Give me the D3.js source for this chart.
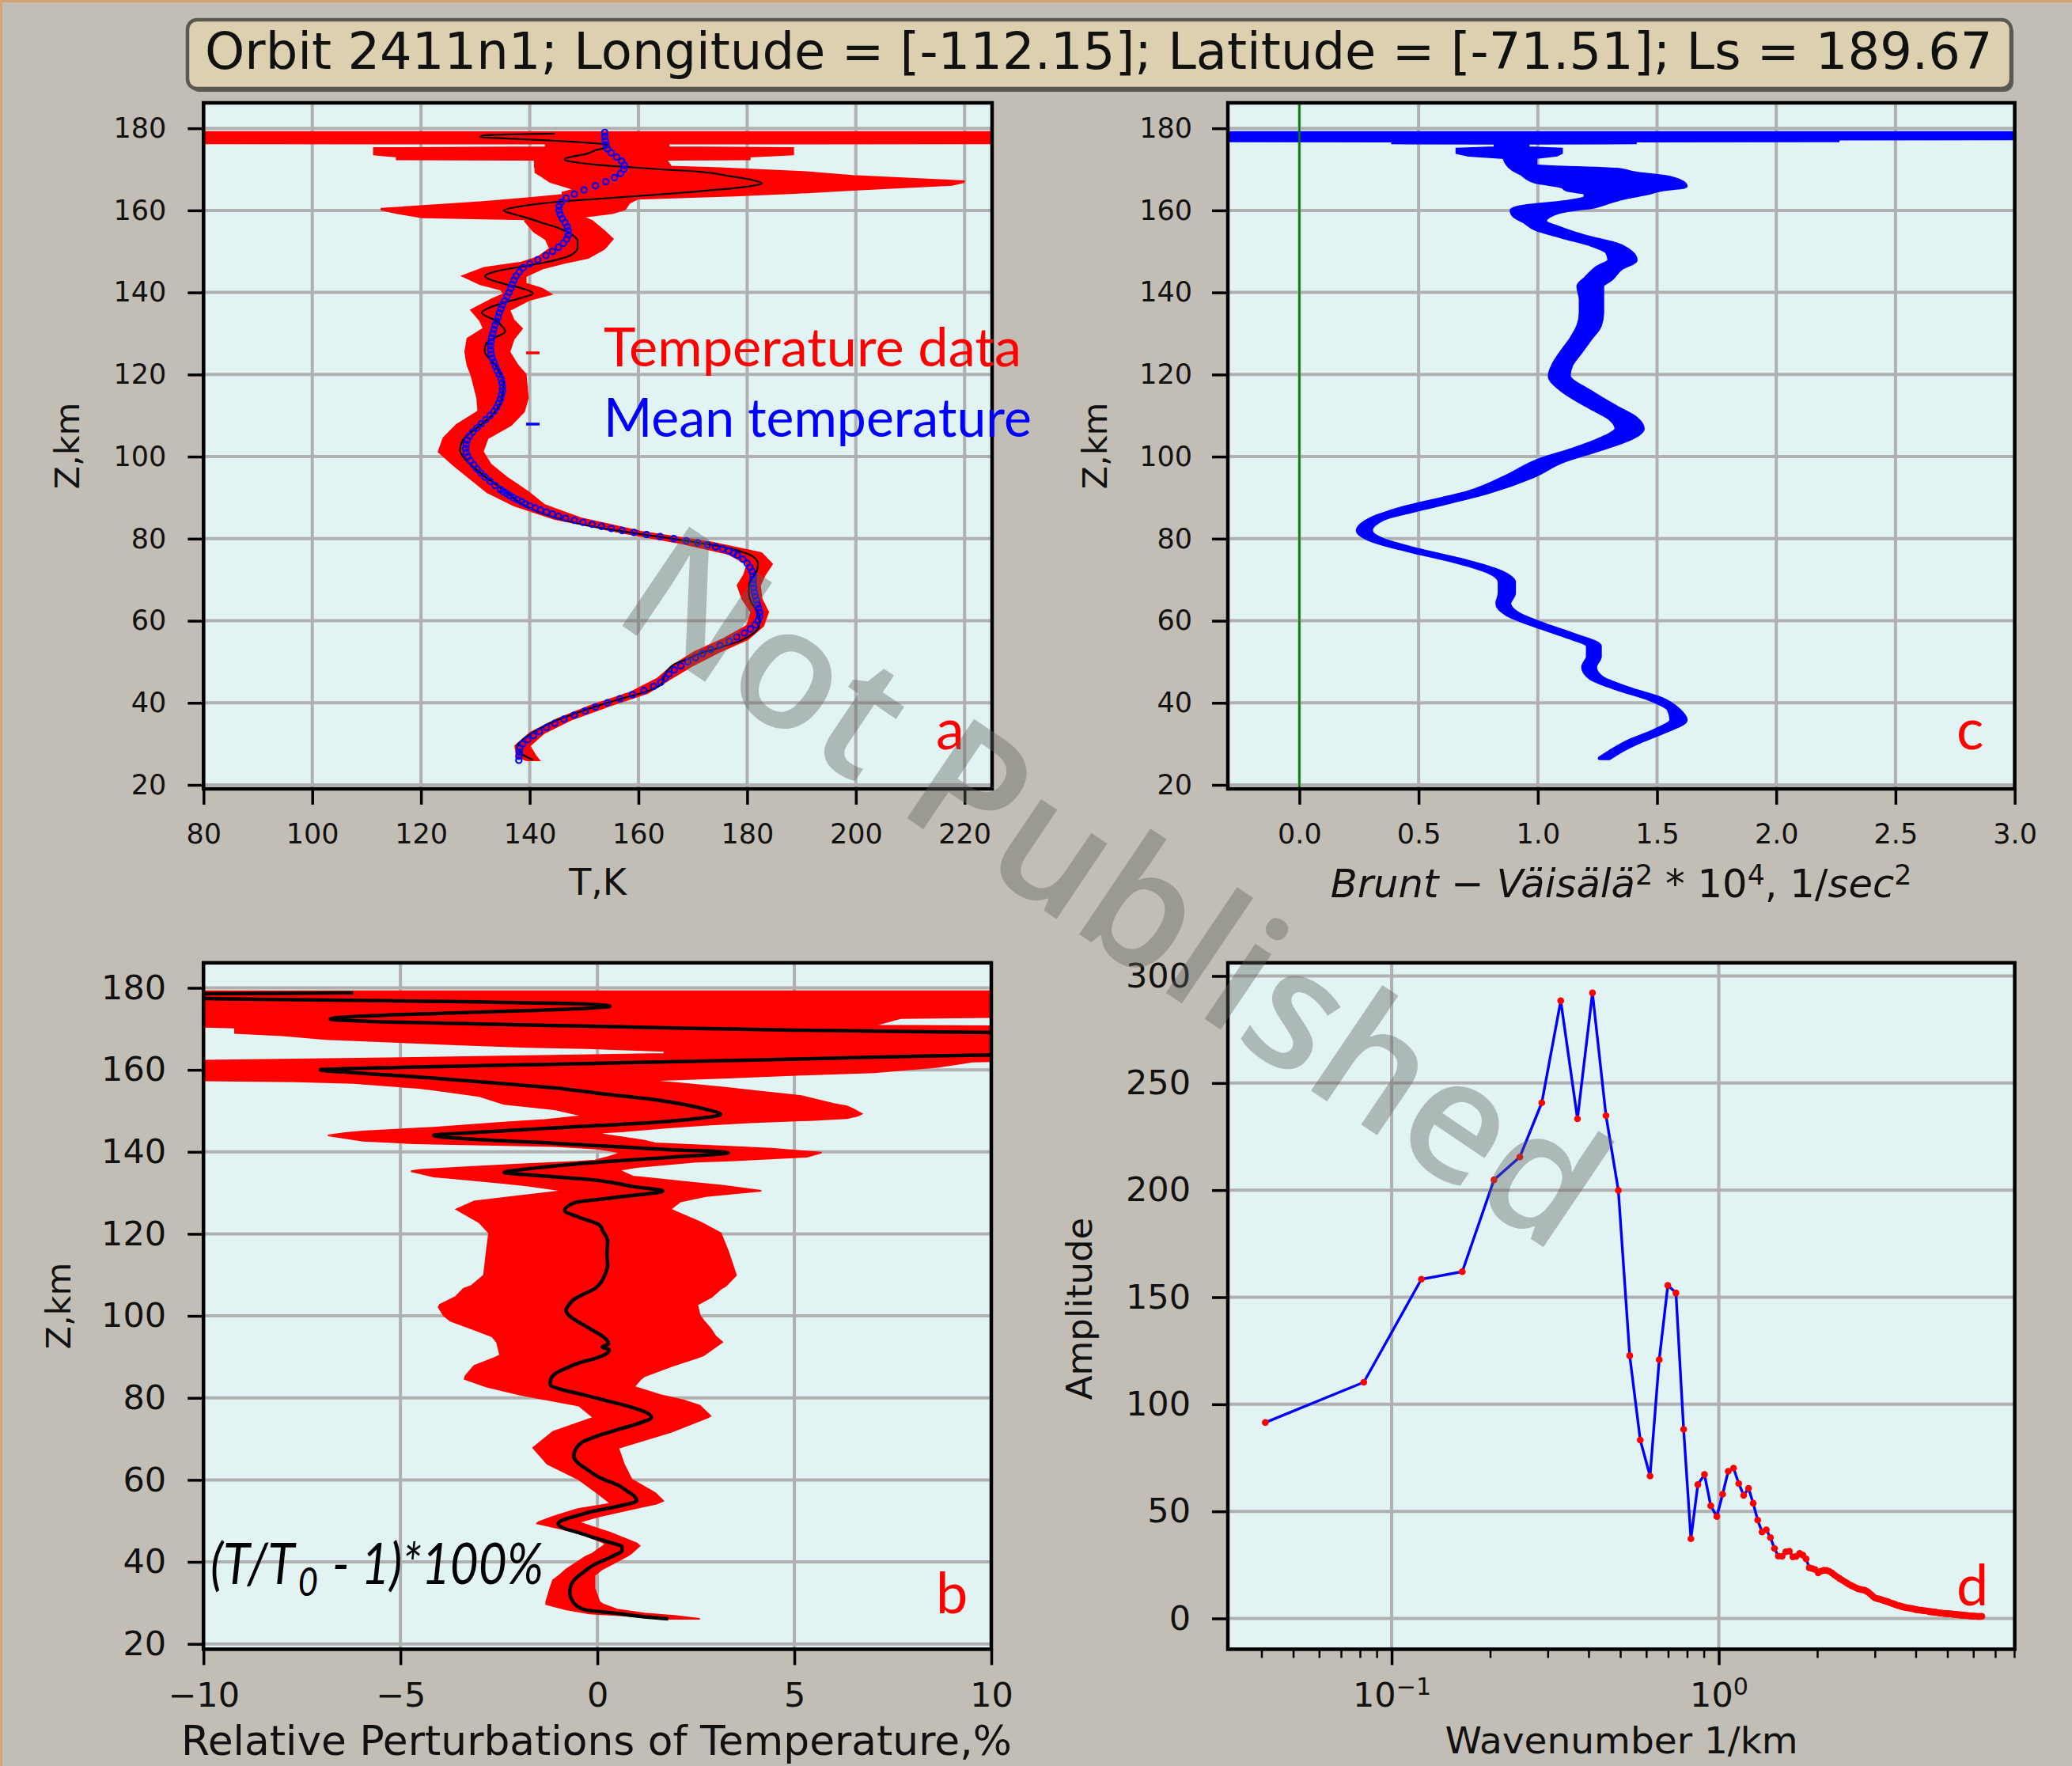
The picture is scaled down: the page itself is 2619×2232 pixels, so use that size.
<!DOCTYPE html>
<html><head><meta charset="utf-8">
<script src="https://cdn.jsdelivr.net/npm/d3@7"></script>
<style>html,body{margin:0;padding:0;background:#c2beb6;} svg{display:block}</style>
</head><body>
<svg id="chart" width="2619" height="2232"></svg>
<script>
// ================= DATA =================
const titleText = "Orbit 2411n1; Longitude = [-112.15]; Latitude = [-71.51]; Ls = 189.67";
const zTicks = [20,40,60,80,100,120,140,160,180];
const tTicks = [80,100,120,140,160,180,200,220];
const nTicks = [0,0.5,1,1.5,2,2.5,3];
const pTicks = [-10,-5,0,5,10];
const ampTicks = [0,50,100,150,200,250,300];
const kTicks = [0.1,1];
const kTickLabels = ["\u22121","0"];
const kMinorTicks = [0.04,0.05,0.06,0.07,0.08,0.09,0.2,0.3,0.4,0.5,0.6,0.7,0.8,0.9,2,3,4,5,6,7,8];

// Panel a: temperature profile [z km, T K]
const tempProfile = [[26.1,140.6],[27.0,139.2],[27.8,138.4],[29.3,137.6],[30.8,138.5],[32.3,140.0],[34,142.2],[35.5,144.5],[37.5,148.5],[39.4,152.8],[41.2,157.4],[42.9,161.8],[44.5,164.2],[46,164.7],[47.1,164.9],[48.3,165.6],[49.4,166.6],[50.8,169.2],[52.3,172.0],[53.6,175.3],[54.9,178.3],[56.8,181.0],[58.7,182.2],[60.6,182.3],[62.6,181.7],[64.2,180.9],[65.8,180.4],[67.5,180.3],[69.1,180.4],[70.7,181.1],[72.3,181.8],[73.8,182.0],[75.2,181.5],[76.6,179.5],[78.1,175.2],[79.4,169.2],[80.7,162.5],[82,156],[83.3,150.4],[84.6,146.2],[85.9,142.9],[87.2,140.4],[88.5,138.5],[89.8,137.1],[91.1,136.0],[92.4,134.7],[93.6,133.4],[94.9,132.0],[96.2,130.8],[97.5,129.6],[98.8,128.5],[100.1,127.7],[101.4,127.2],[102.7,127.3],[104,127.7],[105.3,128.6],[106.6,129.9],[108.3,131.5],[110,133.0],[112.5,134.4],[115,135.0],[118.3,135.2],[120,134.6],[122.1,133.8],[124,132.5],[125.7,131.7],[127.6,132.0],[129,133.6],[130.5,135.5],[131.8,134.9],[133.1,133.8],[135,131.2],[136.3,132.6],[137.6,135.5],[138.7,138.5],[139.8,140.6],[141,138.6],[142.1,135.3],[143,133.0],[144,131.8],[145.2,134.0],[146.2,138.0],[147.2,142.4],[148.2,145.6],[149.1,147.6],[150.9,148.8],[152.7,148.8],[154.2,147.6],[155.6,145.5],[157.1,142.0],[158.5,138.7],[159.3,136.5],[160,135.2],[160.8,137.5],[161.5,141.0],[162.2,146.1],[162.8,152.5],[163.5,159.8],[164.3,168.0],[165.1,175.1],[165.9,180.5],[166.6,182.7],[167.4,181.0],[168.4,176.5],[169.4,171.3],[170.0,164.0],[170.6,157.5],[171.1,152.5],[171.6,149.1],[172.2,146.6],[172.6,146.5],[173.0,147.5],[173.8,150.5],[174.7,152.2],[175.5,154.5],[176.0,154.1],[176.8,147.0],[177.4,138.0],[177.9,130.9],[178.3,131.5],[178.7,144.6]];

// Panel a: mean temperature [z, T]
const meanProfile = [[26,138.0],[27,138.0],[28,138.1],[29,138.2],[30,138.7],[31,139.6],[32,140.7],[33,141.8],[34,143.1],[35,144.6],[36,146.3],[37,148.2],[38,150.2],[39,152.1],[40,154.3],[41,156.6],[42,158.9],[43,161.0],[44,162.8],[45,164.1],[46,164.9],[47,165.6],[48,166.6],[49,167.8],[50,169.1],[51,170.5],[52,171.8],[53,173.3],[54,175.0],[55,176.7],[56,178.1],[57,179.5],[58,180.6],[59,181.5],[60,182.0],[61,182.3],[62,182.3],[63,182.1],[64,181.9],[65,181.7],[66,181.5],[67,181.3],[68,181.2],[69,181.1],[70,181.1],[71,181.1],[72,180.9],[73,180.5],[74,180.0],[75,179.2],[76,178.2],[76.5,177.5],[77,176.6],[77.5,175.5],[78,174.2],[78.5,172.7],[79,170.9],[79.5,168.8],[80,166.5],[80.5,164.0],[81,161.5],[81.5,159.2],[82,157.0],[82.5,155.0],[83,153.2],[83.5,151.5],[84,149.8],[84.5,148.2],[85,146.6],[85.5,145.3],[86,144.2],[86.5,143.1],[87,142.0],[87.5,141.0],[88,140.0],[88.5,139.2],[89,138.5],[89.5,137.7],[90,137.0],[90.5,136.3],[91,135.7],[91.5,135.1],[92,134.6],[93,133.6],[94,132.7],[95,131.8],[96,131.0],[97,130.3],[98,129.7],[99,129.1],[100,128.6],[101,128.3],[102,128.2],[103,128.3],[104,128.5],[105,128.9],[106,129.5],[107,130.3],[108,131.1],[109,131.9],[110,132.7],[111,133.4],[112,133.9],[113,134.3],[114,134.6],[115,134.8],[116,135.0],[117,135.0],[118,134.9],[119,134.7],[120,134.4],[121,134.0],[122,133.7],[123,133.4],[124,133.1],[125,132.9],[126,132.8],[127,132.8],[128,132.9],[129,133.0],[130,133.2],[131,133.4],[132,133.6],[133,133.9],[134,134.2],[135,134.4],[136,134.7],[137,135.0],[138,135.4],[139,135.8],[140,136.2],[141,136.5],[142,136.8],[143,137.1],[144,137.5],[145,138.1],[146,138.8],[147,140.0],[148,141.5],[149,143.0],[150,144.2],[151,145.3],[152,146.2],[153,146.8],[154,147.1],[155,147.1],[156,146.9],[157,146.5],[158,146.0],[159,145.6],[160,145.4],[161,145.4],[162,145.8],[163,146.7],[164,148.2],[165,150.0],[166,152.1],[167,154.0],[168,155.6],[169,156.7],[170,157.3],[171,157.4],[172,156.9],[173,156.0],[174,155.0],[175,154.3],[176,154.0],[177,153.9],[178,153.8],[179,153.8]];

// Panel a: temperature uncertainty band [z, Tlow, Thigh]
const tempBand = [[179.0,70,235],[176.4,70,235],[176.35,143,165.5],[175.3,143,165.5],[175.1,111.4,188.4],[173.7,111.4,188.4],[173.2,115.6,180.4],[172.5,115.6,180.4],[172.4,141,165],[170.6,141,166],[170.2,141.1,175.0],[169.3,141.1,190.3],[168.3,142.3,199.4],[167.0,143.8,220.0],[166.3,145.6,217.7],[165.1,148.4,199.4],[164.3,146.1,188.7],[163.7,146.1,177.7],[162.9,140.0,159.8],[161.9,130.9,158.3],[160.3,112.6,157.5],[159.4,115.6,155.2],[158.4,120.2,149.1],[157.9,139.2,150.5],[157.4,139.2,151.4],[154.9,140.8,153.7],[153.0,143.0,155.2],[150.7,143.8,153.7],[148.5,141.5,150.7],[147.2,138.5,146.1],[145.9,131.6,142.3],[144.0,127.8,139.2],[142.1,130.9,139.2],[140.8,134.7,142.3],[139.6,135.4,143.8],[138.3,133.1,140.0],[135.7,129.3,136.2],[133.2,130.9,137.0],[131.2,131.6,138.5],[128.7,128.6,137.0],[125.5,128.2,136.2],[122.3,128.6,137.7],[120.0,129.3,139.2],[114.3,130.4,139.6],[111.0,130.6,138.9],[107.7,126.6,136.5],[104.5,124.2,132.2],[101.2,123.3,131.3],[98.0,126.0,132.8],[94.7,129.1,135.9],[91.4,132.2,139.6],[88.2,137.1,142.6],[84.9,144.5,149.4],[81.6,156.8,160.5],[79.0,167.8,173.4],[76.4,176.5,182.6],[73.8,180.1,184.5],[71.2,179.5,183.2],[68.6,178.3,182.3],[65.3,179.2,182.6],[62.1,180.8,183.8],[58.8,180.1,182.9],[55.6,175.8,180.1],[52.3,170.3,174.6],[49.0,166.3,169.7],[45.8,163.5,165.7],[42.5,158.6,161.7],[39.2,151.2,154.3],[36.0,145.1,147.6],[32.7,140.2,142.6],[29.5,137.4,139.9],[26.9,137.7,141.1],[26.1,139.5,141.6]];

// Panel b: relative perturbation [z, %]
const pertProfile = [[26.1,1.8],[26.6,1.2],[27.4,0.53],[28.3,-0.3],[29.3,-0.53],[30.8,-0.65],[32.3,-0.7],[34,-0.68],[35.5,-0.6],[37.5,-0.35],[39.4,-0.07],[41.2,0.35],[42.9,0.63],[43.8,0.62],[44.5,0.4],[45.8,-0.05],[47.1,-0.47],[48.2,-0.85],[49.4,-1.0],[50.3,-0.85],[51.3,-0.5],[52.3,-0.13],[53.6,0.55],[54.9,1.0],[55.9,0.95],[57.3,0.75],[58.7,0.53],[60.6,0.05],[62.6,-0.27],[64.2,-0.5],[65.8,-0.6],[67.5,-0.55],[69.1,-0.4],[70.7,0.0],[72.3,0.53],[73.8,1.05],[75.2,1.37],[76.6,1.2],[78.1,0.73],[79.4,0.2],[80.7,-0.33],[82,-0.9],[83.3,-1.2],[84.6,-1.18],[85.9,-1.07],[87.2,-0.8],[88.5,-0.47],[89.8,0.0],[91.1,0.27],[91.8,0.3],[92.4,0.12],[93.1,0.28],[93.6,0.27],[94.9,0.15],[96.2,-0.07],[97.5,-0.3],[98.8,-0.53],[100.1,-0.72],[101.4,-0.8],[102.7,-0.72],[104,-0.6],[105.3,-0.35],[106.6,-0.07],[108.3,0.1],[110,0.19],[112.5,0.26],[115,0.24],[118.3,0.26],[119.7,0.2],[120.5,0.15],[122.1,0.06],[124,-0.45],[125.7,-0.83],[127.6,-0.58],[128.8,0.4],[130.5,1.66],[131.4,1.0],[133.1,-0.06],[134.2,-1.5],[135,-2.37],[135.8,-1.8],[137.6,0.19],[138.7,1.9],[139.8,3.32],[140.6,1.7],[142.1,-1.09],[143,-3.0],[144,-4.16],[144.8,-3.0],[146,-0.8],[147.2,1.47],[148.2,2.6],[149.1,3.13],[150.5,2.7],[152.7,1.47],[154.2,0.1],[155.6,-1.09],[157.1,-3.0],[158.5,-4.9],[159.3,-6.2],[160,-7.03],[160.6,-5.0],[161.4,-1.0],[162.3,3.5],[163.3,8.0],[164.3,13.5],[165.1,16.7],[166.6,19.4],[168,15],[169.1,10.2],[169.7,5.0],[170.6,0.1],[171.6,-5.0],[172.4,-6.78],[173.1,-6.0],[174.2,-2.6],[175.0,-0.3],[175.5,0.32],[176.0,-0.2],[176.8,-5.0],[177.4,-10.2],[177.9,-14.9],[178.3,-14.6],[178.8,-6.2]];

// Panel b: perturbation uncertainty band [z, low, high]
const pertBand = [[179.2,-10.5,10.5],[172.9,-10.5,10.5],[172.6,-10.5,7.7],[170.8,-10.5,7.0],[170.6,-10.5,10.5],[170.3,-9.2,10.5],[169.0,-9.2,10.5],[168.4,-8.0,10.5],[167.5,-6.9,10.5],[166.2,-3.6,10.5],[165.6,-1.8,10.5],[165.3,-0.26,10.5],[164.6,1.7,10.5],[163.9,1.7,10.5],[163.0,-4.0,10.5],[162.2,-10.5,10.5],[162.0,-10.5,9.53],[160.7,-10.5,8.63],[159.4,-10.5,7.03],[158.8,-10.5,5.18],[158.1,-10.5,3.32],[157.5,-10.5,1.6],[157.2,-7.67,1.47],[156.8,-6.2,2.0],[155.6,-4.54,3.3],[155.2,-4.2,3.64],[153.6,-3.0,5.18],[151.7,-2.37,6.0],[151.1,-1.8,6.33],[150.4,-1.09,6.5],[149.3,-0.6,6.71],[148.8,-0.32,6.6],[148.2,-0.9,6.33],[147.8,-1.34,5.5],[147.2,-2.3,3.9],[146.6,-3.13,2.8],[145.9,-4.16,1.73],[145.0,-5.95,0.6],[144.6,-6.4,-0.06],[144.0,-6.84,0.3],[142.7,-5.95,1.2],[142.1,-4.67,1.47],[141.4,-1.09,3.0],[140.8,0.0,4.41],[139.8,0.6,5.69],[138.8,0.3,5.31],[137.9,-0.06,3.39],[137.6,-0.5,2.5],[136.9,-2.0,1.73],[136.3,-3.26,1.0],[135.6,-4.5,0.58],[135.3,-4.73,0.6],[134.0,-4.16,0.9],[133.7,-3.8,1.21],[132.4,-2.37,2.5],[131.8,-1.8,3.13],[130.5,-0.83,4.16],[129.2,-2.0,2.75],[127.9,-3.13,2.11],[126.0,-3.58,1.85],[122.8,-3.0,2.62],[120.2,-2.75,3.13],[115.7,-2.81,3.32],[109.9,-2.88,3.52],[107.3,-3.2,3.26],[106.6,-3.4,3.13],[104.6,-3.6,2.9],[102.7,-4.0,2.53],[102.1,-4.03,2.55],[100.1,-3.9,2.6],[98.8,-3.73,2.7],[96.9,-3.2,2.87],[95.0,-2.67,3.0],[93.6,-2.55,3.17],[90.4,-2.47,2.7],[89.8,-2.6,2.53],[87.8,-3.13,1.9],[85.3,-3.35,1.2],[84.6,-3.37,1.1],[82.7,-2.8,0.93],[80.7,-1.93,1.6],[79.4,-1.2,2.2],[78.1,-0.47,2.6],[75.6,-0.15,2.87],[75.2,-0.1,2.8],[71.7,-1.13,1.87],[67.8,-1.63,0.53],[63.9,-1.27,0.67],[60.1,-0.47,0.87],[56.8,0.0,1.47],[54.9,0.25,1.67],[54.2,0.33,1.5],[52.9,-0.5,0.87],[51.0,-1.13,0.0],[49.7,-1.5,-0.47],[49.4,-1.53,-0.4],[47.1,-0.47,0.33],[44.5,0.2,1.0],[43.9,0.15,1.07],[42.0,-0.13,0.85],[41.3,-0.3,0.73],[38.1,-0.8,0.1],[36.8,-0.95,-0.07],[35.5,-1.13,-0.07],[33.5,-1.2,-0.07],[30.3,-1.3,0.05],[29.7,-1.3,0.13],[28.4,-0.8,0.5],[27.4,-0.2,1.2],[26.8,0.87,2.0],[26.1,1.8,2.6]];

// Panel c: Brunt-Vaisala squared *1e4, top block [z, low, high]
const bvTopBand = [[179.0,-0.4,3.1],[177.4,-0.4,3.1],[177.35,-0.4,2.26],[176.9,-0.4,2.26],[176.85,0.39,1.41],[176.4,0.39,1.41],[176.3,0.82,0.96],[175.3,0.82,0.96],[175.0,0.66,1.1],[174.0,0.66,1.1],[173.4,0.71,1.08],[172.8,0.86,0.99]];
// Panel c: profile band below the top block [z, low, high]
const bvBand = [[172.8,0.86,0.99],[170.8,0.88,0.99],[169.9,0.90,1.33],[169.0,0.93,1.41],[168.1,0.95,1.54],[167.0,0.99,1.6],[165.9,1.1,1.62],[165.1,1.12,1.52],[164.2,1.2,1.46],[163.2,1.2,1.37],[161.9,1.1,1.29],[161.0,0.95,1.24],[160.0,0.89,1.12],[158.7,0.90,1.05],[157.4,0.94,1.03],[155.5,0.99,1.1],[153.6,1.1,1.2],[151.7,1.22,1.33],[149.8,1.29,1.39],[147.9,1.30,1.41],[145.9,1.245,1.35],[143.4,1.2,1.31],[141.5,1.17,1.27],[138.3,1.18,1.27],[135.1,1.18,1.27],[131.9,1.17,1.26],[128.7,1.14,1.22],[125.5,1.1,1.18],[122.3,1.065,1.14],[119.7,1.05,1.13],[115.8,1.11,1.22],[112.0,1.22,1.33],[109.4,1.30,1.41],[106.8,1.33,1.44],[104.2,1.26,1.38],[101.6,1.14,1.25],[99.0,1.0,1.11],[95.2,0.87,0.98],[91.3,0.71,0.79],[87.4,0.43,0.52],[84.8,0.30,0.35],[82.0,0.245,0.30],[79.7,0.30,0.35],[77.1,0.46,0.51],[74.5,0.65,0.70],[72.0,0.79,0.84],[69.4,0.84,0.90],[66.7,0.84,0.90],[64.2,0.83,0.88],[61.6,0.87,0.92],[59.0,0.98,1.03],[56.4,1.11,1.16],[53.8,1.21,1.26],[51.3,1.21,1.26],[48.7,1.19,1.24],[46.1,1.22,1.27],[43.5,1.33,1.38],[40.9,1.47,1.52],[38.3,1.55,1.59],[35.8,1.56,1.62],[33.2,1.49,1.54],[30.6,1.38,1.43],[28.0,1.30,1.34],[26.5,1.26,1.30]];

// Panel d: spectrum
const waveK = [0.0411,0.0822,0.1233,0.1644,0.2055,0.2466,0.2877,0.3288,0.3699,0.4110,0.4521,0.4932,0.5343,0.5754,0.6165,0.6576,0.6987,0.7398,0.7809,0.8220,0.8631,0.9042,0.9453,0.9864,1.0275,1.0686,1.1097,1.1508,1.1919,1.2330,1.2741,1.3152,1.3563,1.3974,1.4385,1.4796,1.5207,1.5618,1.6029,1.6440,1.6851,1.7262,1.7673,1.8084,1.8495,1.8906,1.9317,1.9728,2.0139,2.0550,2.0961,2.1372,2.1783,2.2194,2.2605,2.3016,2.3427,2.3838,2.4249,2.4660,2.5071,2.5482,2.5893,2.6304,2.6715,2.7126,2.7537,2.7948,2.8359,2.8770,2.9181,2.9592,3.0003,3.0414,3.0825,3.1236,3.1647,3.2058,3.2469,3.2880,3.3291,3.3702,3.4113,3.4524,3.4935,3.5346,3.5757,3.6168,3.6579,3.6990,3.7401,3.7812,3.8223,3.8634,3.9045,3.9456,3.9867,4.0278,4.0689,4.1100,4.1511,4.1922,4.2333,4.2744,4.3155,4.3566,4.3977,4.4388,4.4799,4.5210,4.5621,4.6032,4.6443,4.6854,4.7265,4.7676,4.8087,4.8498,4.8909,4.9320,4.9731,5.0142,5.0553,5.0964,5.1375,5.1786,5.2197,5.2608,5.3019,5.3430,5.3841,5.4252,5.4663,5.5074,5.5485,5.5896,5.6307,5.6718,5.7129,5.7540,5.7951,5.8362,5.8773,5.9184,5.9595,6.0006,6.0417,6.0828,6.1239,6.1650,6.2061,6.2472,6.2883,6.3294,6.3705];
const waveAmp = [91.5,110.3,158.4,161.9,204.8,215.5,240.8,288.4,233.3,292.1,234.8,199.9,122.7,83.3,66.5,120.8,155.5,152.0,88.3,37.2,62.5,67.2,52.6,47.6,58.0,68.7,70.2,63.0,57.5,60.8,53.8,45.9,40.4,41.4,37.8,32.7,29.1,29.0,31.1,31.4,28.7,29.0,30.4,29.5,27.8,23.7,23.3,22.8,21.3,22.1,22.5,22.4,22.0,21.2,20.2,19.4,18.6,17.9,17.2,16.5,15.8,15.3,14.8,14.2,13.8,13.6,13.3,13.2,12.6,12.0,11.2,10.3,9.6,9.3,9.1,8.9,8.6,8.3,8.0,7.8,7.4,7.1,6.9,6.6,6.3,6.0,5.9,5.6,5.4,5.2,5.1,4.9,4.8,4.7,4.6,4.4,4.2,4.1,4.0,3.9,3.9,3.7,3.6,3.6,3.5,3.4,3.2,3.2,3.1,3.0,2.9,2.9,2.8,2.7,2.6,2.5,2.5,2.4,2.3,2.3,2.2,2.2,2.1,2.1,2.1,2.0,2.0,1.9,1.8,1.8,1.7,1.7,1.6,1.6,1.6,1.5,1.5,1.4,1.4,1.3,1.3,1.2,1.2,1.1,1.1,1.1,1.0,1.0,1.0,0.9,0.9,0.9,0.9,0.9,1.0];

// ================= DRAWING =================
const svg = d3.select('#chart');
const BG = '#c2beb6', PANEL = '#e2f3f3', GRID = '#b0b0b0';
const TICKFONT = 'DejaVu Sans';
const LABFONT = 'Lato';

svg.append('rect').attr('width',2619).attr('height',2232).attr('fill',BG);
svg.append('rect').attr('x',0).attr('y',0).attr('width',2619).attr('height',3).attr('fill','#d4a373');
svg.append('rect').attr('x',0).attr('y',0).attr('width',3).attr('height',2232).attr('fill','#d4a373');

function fitWidth(sel, target){
  const L = sel.node().getComputedTextLength();
  const fs = parseFloat(sel.attr('font-size'));
  if (L > 0) sel.attr('font-size', fs * target / L);
}

// Title box
svg.append('rect').attr('x',240).attr('y',28).attr('width',2305).attr('height',88).attr('rx',12).attr('fill','#5d5b55');
svg.append('rect').attr('x',237).attr('y',25).attr('width',2305).attr('height',87).attr('rx',12)
  .attr('fill','#dcd0b0').attr('stroke','#5a5852').attr('stroke-width',4.5);
const tt = svg.append('text').attr('x',259).attr('y',87).attr('font-family','DejaVu Sans')
  .attr('font-size',58).attr('fill','#111').text(titleText);
fitWidth(tt, 2260);

function makePanel(o){
  const g = svg.append('g');
  const [x0,x1] = o.x.range(); const [y1,y0] = o.y.range();
  g.append('rect').attr('x',x0).attr('y',y0).attr('width',x1-x0).attr('height',y1-y0).attr('fill',PANEL);
  const gg = g.append('g').attr('stroke',GRID).attr('stroke-width',4);
  o.xGrid.forEach(v=>gg.append('line').attr('x1',o.x(v)).attr('x2',o.x(v)).attr('y1',y0).attr('y2',y1));
  o.yGrid.forEach(v=>gg.append('line').attr('y1',o.y(v)).attr('y2',o.y(v)).attr('x1',x0).attr('x2',x1));
  const cid = 'clip_'+o.name;
  svg.append('clipPath').attr('id',cid).append('rect').attr('x',x0).attr('y',y0).attr('width',x1-x0).attr('height',y1-y0);
  const data = g.append('g').attr('clip-path',`url(#${cid})`);
  return {g, data, x0, x1, y0, y1};
}

function styleAxis(ax, fs){
  ax.select('.domain').remove();
  ax.selectAll('.tick line').attr('stroke','#000').attr('stroke-width',3.5);
  ax.selectAll('.tick text').attr('fill','#111');
  ax.attr('font-size',fs).attr('font-family',TICKFONT);
}

function finishPanel(P){
  P.g.append('rect').attr('x',P.x0).attr('y',P.y0).attr('width',P.x1-P.x0).attr('height',P.y1-P.y0)
    .attr('fill','none').attr('stroke','#000').attr('stroke-width',4.5);
}

function squeezeText(sel, w){
  sel.attr('textLength', w).attr('lengthAdjust','spacingAndGlyphs');
}

// ---------- Panel a ----------
const xA = d3.scaleLinear().domain([80,225.06]).range([257.3,1254]);
const yA = d3.scaleLinear().domain([19.04,186.2]).range([997,130]);
const PA = makePanel({name:'a', x:xA, y:yA, xGrid:tTicks, yGrid:zTicks});
PA.data.append('path').datum(tempBand)
  .attr('d', d3.area().y(d=>yA(d[0])).x0(d=>xA(d[1])).x1(d=>xA(d[2])))
  .attr('fill','#ff0000').attr('stroke','#ff0000').attr('stroke-width',3);
PA.data.append('path').datum(tempProfile)
  .attr('d', d3.line().x(d=>xA(d[1])).y(d=>yA(d[0])).curve(d3.curveMonotoneY))
  .attr('fill','none').attr('stroke','#000').attr('stroke-width',2.2);
PA.data.append('g').selectAll('circle').data(meanProfile).join('circle')
  .attr('cx',d=>xA(d[1])).attr('cy',d=>yA(d[0])).attr('r',3.6)
  .attr('fill','none').attr('stroke','#0000ff').attr('stroke-width',2.2);
finishPanel(PA);
{
  const ay = PA.g.append('g').attr('transform',`translate(${PA.x0},0)`)
    .call(d3.axisLeft(yA).tickValues(zTicks).tickSize(20).tickPadding(27));
  styleAxis(ay, 35);
  const ax = PA.g.append('g').attr('transform',`translate(0,${PA.y1})`)
    .call(d3.axisBottom(xA).tickValues(tTicks).tickSize(20).tickPadding(24));
  styleAxis(ax, 35);
  svg.append('text').attr('x',755.6).attr('y',1131).attr('text-anchor','middle')
    .attr('font-family',TICKFONT).attr('font-size',46).attr('fill','#111').text('T,K');
  svg.append('text').attr('transform','translate(100,563.5) rotate(-90)').attr('text-anchor','middle')
    .attr('font-family',TICKFONT).attr('font-size',43).attr('fill','#111').text('Z,km');
  svg.append('line').attr('x1',665).attr('x2',682).attr('y1',446).attr('y2',446).attr('stroke','#ff0000').attr('stroke-width',3.5);
  svg.append('line').attr('x1',665).attr('x2',682).attr('y1',536).attr('y2',536).attr('stroke','#0000ff').attr('stroke-width',3.5);
  const l1 = svg.append('text').attr('x',763).attr('y',463).attr('font-family',LABFONT).attr('font-size',68)
    .attr('fill','#ff0000').text('Temperature data');
  squeezeText(l1, 528);
  const l2 = svg.append('text').attr('x',763).attr('y',552).attr('font-family',LABFONT).attr('font-size',68)
    .attr('fill','#0000ff').text('Mean temperature');
  squeezeText(l2, 541);
  svg.append('text').attr('x',1183).attr('y',947).attr('font-family',LABFONT).attr('font-size',72).attr('fill','#ff0000').text('a');
}

// ---------- Panel c ----------
const xC = d3.scaleLinear().domain([-0.3,3.0]).range([1552,2546.6]);
const yC = d3.scaleLinear().domain([19.04,186.2]).range([997,130]);
const PC = makePanel({name:'c', x:xC, y:yC, xGrid:nTicks, yGrid:zTicks});
PC.data.append('path').datum(bvTopBand)
  .attr('d', d3.area().y(d=>yC(d[0])).x0(d=>xC(d[1])).x1(d=>xC(d[2])))
  .attr('fill','#0000ff').attr('stroke','#0000ff').attr('stroke-width',3);
PC.data.append('path').datum(bvBand)
  .attr('d', d3.area().y(d=>yC(d[0])).x0(d=>xC(d[1])).x1(d=>xC(d[2])).curve(d3.curveMonotoneY))
  .attr('fill','#0000ff').attr('stroke','#0000ff').attr('stroke-width',5).attr('stroke-linejoin','round');
PC.data.append('line').attr('x1',xC(0)).attr('x2',xC(0)).attr('y1',PC.y0).attr('y2',PC.y1)
  .attr('stroke','#008000').attr('stroke-width',2.5);
finishPanel(PC);
{
  const ay = PC.g.append('g').attr('transform',`translate(${PC.x0},0)`)
    .call(d3.axisLeft(yC).tickValues(zTicks).tickSize(20).tickPadding(25));
  styleAxis(ay, 35);
  const ax = PC.g.append('g').attr('transform',`translate(0,${PC.y1})`)
    .call(d3.axisBottom(xC).tickValues(nTicks).tickFormat(d3.format('.1f')).tickSize(20).tickPadding(24));
  styleAxis(ax, 35);
  const lab = svg.append('text').attr('x',2049).attr('y',1134).attr('text-anchor','middle')
    .attr('font-family',TICKFONT).attr('font-size',44).attr('fill','#111');
  lab.append('tspan').attr('font-style','italic').text('Brunt');
  lab.append('tspan').text(' \u2212 ');
  lab.append('tspan').attr('font-style','italic').text('V\u00e4is\u00e4l\u00e4');
  lab.append('tspan').attr('dy','-0.45em').attr('font-size','70%').text('2');
  lab.append('tspan').attr('dy','0.315em').text(' * 10');
  lab.append('tspan').attr('dy','-0.45em').attr('font-size','70%').text('4');
  lab.append('tspan').attr('dy','0.315em').text(', 1/');
  lab.append('tspan').attr('font-style','italic').text('sec');
  lab.append('tspan').attr('dy','-0.45em').attr('font-size','70%').text('2');
  fitWidth(lab, 735);
  svg.append('text').attr('transform','translate(1399,563.5) rotate(-90)').attr('text-anchor','middle')
    .attr('font-family',TICKFONT).attr('font-size',43).attr('fill','#111').text('Z,km');
  svg.append('text').attr('x',2473).attr('y',947).attr('font-family',LABFONT).attr('font-size',72).attr('fill','#ff0000').text('c');
}

// ---------- Panel b ----------
const xB = d3.scaleLinear().domain([-10,10]).range([257.2,1253]);
const yB = d3.scaleLinear().domain([18.7,186.1]).range([2084.4,1216.9]);
const PB = makePanel({name:'b', x:xB, y:yB, xGrid:pTicks, yGrid:zTicks});
PB.data.append('path').datum(pertBand)
  .attr('d', d3.area().y(d=>yB(d[0])).x0(d=>xB(d[1])).x1(d=>xB(d[2])))
  .attr('fill','#ff0000').attr('stroke','#ff0000').attr('stroke-width',2);
PB.data.append('path').datum(pertProfile)
  .attr('d', d3.line().x(d=>xB(d[1])).y(d=>yB(d[0])).curve(d3.curveMonotoneY))
  .attr('fill','none').attr('stroke','#000').attr('stroke-width',4.5);
finishPanel(PB);
{
  const ay = PB.g.append('g').attr('transform',`translate(${PB.x0},0)`)
    .call(d3.axisLeft(yB).tickValues(zTicks).tickSize(20).tickPadding(27));
  styleAxis(ay, 43);
  const ax = PB.g.append('g').attr('transform',`translate(0,${PB.y1})`)
    .call(d3.axisBottom(xB).tickValues(pTicks).tickFormat(d3.format('d')).tickSize(20).tickPadding(22));
  styleAxis(ax, 43);
  const lab = svg.append('text').attr('x',754).attr('y',2218).attr('text-anchor','middle')
    .attr('font-family',TICKFONT).attr('font-size',50).attr('fill','#111').text('Relative Perturbations of Temperature,%');
  fitWidth(lab, 1050);
  svg.append('text').attr('transform','translate(89,1650.6) rotate(-90)').attr('text-anchor','middle')
    .attr('font-family',TICKFONT).attr('font-size',43).attr('fill','#111').text('Z,km');
  const f = svg.append('text').attr('x',266).attr('y',2002).attr('font-family',LABFONT).attr('font-style','italic')
    .attr('font-size',72).attr('fill','#000');
  f.append('tspan').text('(T/T');
  f.append('tspan').attr('dx','0.1em').attr('dy','0.3em').attr('font-size','70%').text('0');
  f.append('tspan').attr('dx','0.06em').attr('dy','-0.21em').text(' - 1)*100%');
  squeezeText(f, 421);
  svg.append('text').attr('x',1183).attr('y',2039).attr('font-family',LABFONT).attr('font-size',72).attr('fill','#ff0000').text('b');
}

// ---------- Panel d ----------
const xD = d3.scaleLog().domain([0.03157,8.03]).range([1552,2546.6]);
const yD = d3.scaleLinear().domain([-14.37,306.13]).range([2084.4,1216.9]);
const PD = makePanel({name:'d', x:xD, y:yD, xGrid:kTicks, yGrid:ampTicks});
const spec = waveK.map((k,i)=>[k, waveAmp[i]]);
PD.data.append('path').datum(spec)
  .attr('d', d3.line().x(d=>xD(d[0])).y(d=>yD(d[1])))
  .attr('fill','none').attr('stroke','#0000ff').attr('stroke-width',3.4);
PD.data.append('g').selectAll('circle').data(spec).join('circle')
  .attr('cx',d=>xD(d[0])).attr('cy',d=>yD(d[1])).attr('r',4.3).attr('fill','#ff0000');
finishPanel(PD);
{
  const ay = PD.g.append('g').attr('transform',`translate(${PD.x0},0)`)
    .call(d3.axisLeft(yD).tickValues(ampTicks).tickSize(20).tickPadding(27));
  styleAxis(ay, 43);
  const axm = PD.g.append('g').attr('transform',`translate(0,${PD.y1})`)
    .call(d3.axisBottom(xD).tickValues(kMinorTicks).tickFormat('').tickSize(11));
  styleAxis(axm, 43);
  axm.selectAll('.tick line').attr('stroke-width',2.5);
  const ax = PD.g.append('g').attr('transform',`translate(0,${PD.y1})`)
    .call(d3.axisBottom(xD).tickValues(kTicks).tickFormat('').tickSize(20).tickPadding(22));
  styleAxis(ax, 43);
  ax.selectAll('.tick').each(function(d,i){
    const t = d3.select(this).append('text').attr('y',42).attr('dy','0.71em').attr('fill','#111').attr('text-anchor','middle');
    t.append('tspan').text('10');
    t.append('tspan').attr('dy','-0.5em').attr('font-size','70%').text(kTickLabels[i]);
  });
  svg.append('text').attr('x',2049.6).attr('y',2216).attr('text-anchor','middle')
    .attr('font-family',TICKFONT).attr('font-size',47).attr('fill','#111').text('Wavenumber 1/km');
  svg.append('text').attr('transform','translate(1380,1654) rotate(-90)').attr('text-anchor','middle')
    .attr('font-family',TICKFONT).attr('font-size',45).attr('fill','#111').text('Amplitude');
  svg.append('text').attr('x',2473).attr('y',2029).attr('font-family',LABFONT).attr('font-size',72).attr('fill','#ff0000').text('d');
}

// ---------- Watermark ----------
svg.append('text').attr('transform','translate(770,780) rotate(34)')
  .attr('font-family','Open Sans').attr('font-weight',600).attr('font-size',212)
  .attr('fill','rgb(95,97,93)').attr('fill-opacity',0.4)
  .text('Not Published');
</script>
</body></html>
